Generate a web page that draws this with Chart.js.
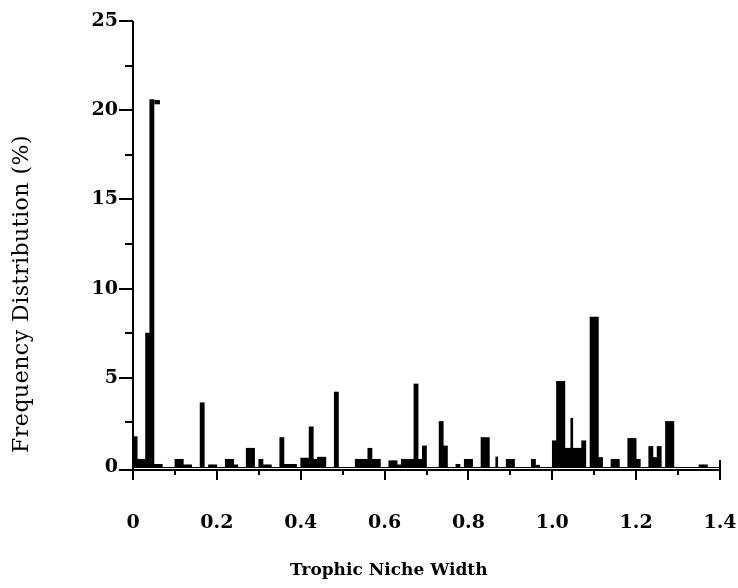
<!DOCTYPE html>
<html>
<head>
<meta charset="utf-8">
<script src="https://cdn.jsdelivr.net/npm/chart.js@4"></script>
<style>
    html, body { margin: 0; padding: 0; background: #fff; }
</style>
</head>
<body>
<canvas id="chart-niche" width="738" height="588"></canvas>
<script>
// histogram bins (lower edge of each 0.01 wide bin) and their share in %
const binLeft = [
    0.00, 0.01, 0.02, 0.03, 0.04, 0.05, 0.06,
    0.10, 0.11, 0.12, 0.13, 0.16, 0.18, 0.19,
    0.22, 0.23, 0.24, 0.27, 0.28, 0.30, 0.31, 0.32,
    0.35, 0.36, 0.37, 0.38, 0.40, 0.41, 0.42, 0.43, 0.44, 0.45, 0.48,
    0.53, 0.54, 0.55, 0.56, 0.57, 0.58, 0.61, 0.62, 0.63,
    0.64, 0.65, 0.66, 0.67, 0.68, 0.69, 0.73, 0.74, 0.77, 0.79, 0.80,
    0.83, 0.84, 0.89, 0.90, 0.95, 0.96,
    1.00, 1.01, 1.02, 1.03, 1.04, 1.05, 1.06, 1.07, 1.09, 1.10, 1.11,
    1.14, 1.15, 1.18, 1.19, 1.20, 1.23, 1.24, 1.25, 1.27, 1.28, 1.35, 1.36
];
const freqPct = [
    1.7, 0.43, 0.43, 7.5, 20.6, 0.15, 0.15,
    0.43, 0.43, 0.12, 0.12, 3.6, 0.12, 0.12,
    0.43, 0.43, 0.12, 1.05, 1.05, 0.43, 0.12, 0.12,
    1.65, 0.15, 0.15, 0.15, 0.5, 0.5, 2.25, 0.43, 0.55, 0.55, 4.2,
    0.43, 0.43, 0.43, 1.05, 0.43, 0.43, 0.35, 0.35, 0.12,
    0.43, 0.43, 0.43, 4.65, 0.43, 1.18, 2.55, 1.18, 0.15, 0.43, 0.43,
    1.65, 1.65, 0.43, 0.43, 0.43, 0.1,
    1.47, 4.8, 4.8, 1.05, 1.05, 1.05, 1.05, 1.47, 8.4, 8.4, 0.53,
    0.43, 0.43, 1.6, 1.6, 0.43, 1.15, 0.53, 1.15, 2.55, 2.55, 0.12, 0.12
];
const binWidth = 0.01;

// single narrow spikes that sit between the regular bins
const spikeX = [0.8675, 1.0465];
const spikePct = [0.56, 2.73];
// small flag beside the top of the tallest bar
const flagX = [0.0575];
const flagPct = [[20.35, 20.55]];

const xTicks = [0, 0.2, 0.4, 0.6, 0.8, 1.0, 1.2, 1.4];
const yTicks = [0, 5, 10, 15, 20, 25];
const xTitle = 'Trophic Niche Width';
const yTitle = 'Frequency Distribution (%)';

// axis lines, major/minor ticks and axis titles, placed from the scales
const axisDecor = {
    id: 'axisDecor',
    afterDraw(chart) {
        const { ctx, chartArea: a, scales: { x, y } } = chart;
        ctx.save();
        ctx.strokeStyle = '#000';
        ctx.lineWidth = 2;
        ctx.beginPath();
        ctx.moveTo(a.left, a.top);
        ctx.lineTo(a.left, a.bottom + 10);
        ctx.moveTo(a.left - 14, a.bottom);
        ctx.lineTo(a.right, a.bottom);
        for (let v = 2.5; v <= 25; v += 2.5) {
            const py = Math.round(y.getPixelForValue(v));
            const len = v % 5 === 0 ? 14 : 8;
            ctx.moveTo(a.left - len, py);
            ctx.lineTo(a.left, py);
        }
        for (let i = 1; i <= 14; i++) {
            const px = Math.round(x.getPixelForValue(i / 10));
            const len = i % 2 === 0 ? 10 : 5;
            ctx.moveTo(px, i === 14 ? a.bottom - 10 : a.bottom);
            ctx.lineTo(px, a.bottom + len);
        }
        ctx.stroke();

        // histogram baseline just above the axis
        ctx.lineWidth = 1;
        ctx.beginPath();
        const by = Math.round(y.getPixelForValue(0)) + 0.5;
        ctx.moveTo(a.left, by);
        ctx.lineTo(a.right, by);
        ctx.stroke();

        // titles
        ctx.fillStyle = '#000';
        ctx.textAlign = 'center';
        ctx.textBaseline = 'middle';
        ctx.font = 'bold 17px "DejaVu Serif"';
        ctx.fillText(xTitle, x.getPixelForValue(0.61), 571);
        ctx.translate(22, y.getPixelForValue(9.7));
        ctx.rotate(-Math.PI / 2);
        ctx.font = '22px "DejaVu Serif"';
        ctx.letterSpacing = '0.5px';
        ctx.fillText(yTitle, 0, 0);
        ctx.restore();
    }
};

const ctx = document.getElementById('chart-niche').getContext('2d');
new Chart(ctx, {
    type: 'bar',
    data: {
        datasets: [
            {
                label: 'Frequency',
                data: binLeft.map((b, i) => ({ x: b + binWidth / 2, y: freqPct[i] })),
                backgroundColor: '#000',
                borderWidth: 0,
                barPercentage: 1,
                categoryPercentage: 1,
                grouped: false
            },
            {
                label: 'Spikes',
                data: spikeX.map((b, i) => ({ x: b, y: spikePct[i] })),
                backgroundColor: '#000',
                borderWidth: 0,
                barThickness: 2,
                grouped: false,
                xAxisID: 'x2'
            },
            {
                label: 'Flag',
                data: flagX.map((b, i) => ({ x: b, y: flagPct[i] })),
                backgroundColor: '#000',
                borderWidth: 0,
                barThickness: 5,
                grouped: false,
                xAxisID: 'x2'
            }
        ]
    },
    options: {
        responsive: false,
        animation: false,
        layout: { padding: { top: 21, right: 18, bottom: 0, left: 0 } },
        plugins: {
            legend: { display: false },
            tooltip: { enabled: false }
        },
        scales: {
            x: {
                type: 'linear',
                min: 0,
                max: 1.4,
                offset: false,
                grid: { display: false, drawTicks: false, offset: false },
                border: { display: false },
                afterBuildTicks: s => { s.ticks = xTicks.map(v => ({ value: v })); },
                afterFit: s => {
                    s.height = 118;
                    s.paddingLeft = 0;
                    s.paddingRight = 0;
                },
                ticks: {
                    color: '#000',
                    padding: 42,
                    maxRotation: 0,
                    autoSkip: false,
                    font: { family: 'DejaVu Serif', size: 19, weight: 'bold' },
                    callback: v => v === 0 ? '0' : v.toFixed(1)
                }
            },
            x2: {
                type: 'linear',
                min: 0,
                max: 1.4,
                offset: false,
                display: false
            },
            y: {
                min: -0.17,
                max: 25,
                grid: { display: false, drawTicks: false },
                border: { display: false },
                afterBuildTicks: s => { s.ticks = yTicks.map(v => ({ value: v })); },
                afterFit: s => {
                    s.width = 133;
                    s.paddingTop = 0;
                    s.paddingBottom = 0;
                },
                ticks: {
                    color: '#000',
                    padding: 15,
                    font: { family: 'DejaVu Serif', size: 19, weight: 'bold' }
                }
            }
        }
    },
    plugins: [axisDecor]
});
</script>
</body>
</html>
